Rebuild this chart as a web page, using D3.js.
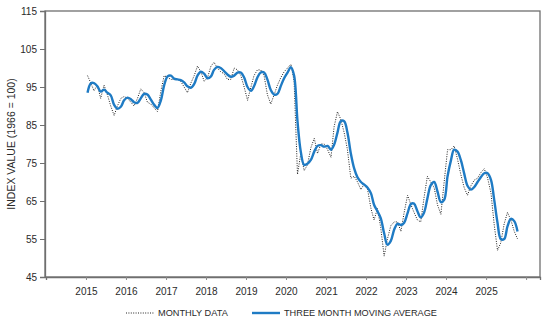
<!DOCTYPE html>
<html>
<head>
<meta charset="utf-8">
<script src="https://cdn.jsdelivr.net/npm/d3@7"></script>
<style>
  body { margin: 0; background: #fff; }
  text { font-family: "Liberation Sans", Arial, sans-serif; fill: #2a2a2a; }
</style>
</head>
<body>
<script>
// monthly index values, Jan 2015 .. Oct 2025
const monthly = [
  98, 96, 94, 95.5, 92, 95.5, 93, 90, 87.5, 90, 92, 92.5,
  92, 91, 90, 92, 94.5, 93.5, 91, 90.5, 89.5, 88.5, 94, 98,
  97.5, 97, 97, 97, 96.5, 95, 93.5, 96, 98, 100.5, 99, 96.5,
  97.5, 100.5, 101.5, 100, 99, 98.5, 97, 97, 100, 99.5, 98, 95,
  91.5, 95, 98, 99.5, 99.5, 98, 93, 90.5, 93, 95.5, 97.5, 99,
  100, 101, 96.5, 72, 77.5, 73, 74.5, 79, 81.5, 77.5, 80, 80,
  78.5, 76.5, 84.5, 88.5, 86.5, 83, 78.5, 71, 71.5, 70, 68, 69.5,
  68, 63, 60, 63, 58, 50.5, 55, 58.5, 59.5, 59.5, 57, 62,
  66.5, 64, 62, 60, 59.5, 66, 71.5, 70, 68.5, 64, 61.5, 70,
  78.5, 78.5, 79.5, 76, 72, 68.5, 66.5, 69, 70.5, 71, 72.5, 73.5,
  71, 67, 59, 52, 54, 59, 62, 60, 57, 55
];

// three month moving average as drawn
const movingAvg = [
  93.5, 96, 96, 95.2, 93.8, 94.3, 93.5, 92.8, 90.3, 89.3, 89.8, 91.5,
  92.2, 91.8, 91, 90.8, 92, 93.2, 93, 91.7, 90.3, 89.5, 91.5, 95.5,
  97.8, 98, 97.2, 97, 96.8, 96.2, 95.2, 94.8, 95.8, 98, 99, 98.5,
  97.3, 97.8, 99.5, 100.3, 100, 99.2, 98.3, 97.7, 98, 98.8, 98.8, 97.5,
  95, 94, 95.2, 97.5, 98.8, 98.8, 97, 94.2, 93, 93.2, 95.3, 97.3,
  98.8, 100.2, 98, 86, 78, 74.5, 74.8, 75.8, 78, 79.5, 79.7, 79.3,
  79.5, 78.5, 79.8, 83, 86, 86, 83, 77.5, 73.5, 71.2, 70, 69.3,
  68.5, 67, 64, 62.3, 60.5, 56.5, 53.5, 54.5, 57.5, 59, 58.7, 59.3,
  61.8, 64.2, 64.3, 62.3, 60.7, 62, 65.7, 69.2, 70, 67.5, 64.7, 65.3,
  71.5, 75.7, 78.5, 78, 75.8, 72.2, 69, 68, 68.7, 70, 71.3, 72.3,
  72.3, 70.5, 65.5, 59.3, 55, 55, 58.3, 60.3, 59.7, 57
];

const startYear = 2015;
const yearTicks = [2015, 2016, 2017, 2018, 2019, 2020, 2021, 2022, 2023, 2024, 2025, 2026];
const yearLabels = ["2015", "2016", "2017", "2018", "2019", "2020", "2021", "2022", "2023", "2024", "2025", ""];
const yTicks = [45, 55, 65, 75, 85, 95, 105, 115];
const seriesNames = ["MONTHLY DATA", "THREE MONTH MOVING AVERAGE"];

const W = 547, H = 324;
const plotL = 45, plotR = 540, plotT = 11, plotB = 277;
const blue = "#1f7bc4";

const svg = d3.select("body").append("svg")
  .attr("width", W)
  .attr("height", H);

// scales
const x = d3.scaleTime()
  .domain([new Date(2014, 0, 1), new Date(2026, 4, 8)])
  .range([plotL + 1, plotR]);

const y = d3.scaleLinear()
  .domain([45, 115])
  .range([plotB, plotT]);

const dateOf = i => new Date(startYear, i, 15);

// plot frame
svg.append("rect")
  .attr("x", plotL)
  .attr("y", plotT)
  .attr("width", plotR - plotL)
  .attr("height", plotB - plotT)
  .attr("fill", "none")
  .attr("stroke", "#6f6f6f")
  .attr("stroke-width", 1.3);

// y axis
const yAxis = svg.append("g")
  .attr("transform", `translate(${plotL},0)`)
  .call(d3.axisLeft(y).tickValues(yTicks).tickSize(5).tickPadding(3));
yAxis.select(".domain").attr("stroke", "#6f6f6f").attr("stroke-width", 1.3);
yAxis.selectAll(".tick line").attr("stroke", "#6f6f6f");
yAxis.selectAll("text")
  .style("font-size", "10px")
  .attr("fill", "#2a2a2a");

// x axis
const xAxis = svg.append("g")
  .attr("transform", `translate(0,${plotB})`)
  .call(d3.axisBottom(x)
    .tickValues(yearTicks.map(yr => new Date(yr, 0, 1)))
    .tickFormat((d, i) => yearLabels[i])
    .tickSize(3)
    .tickPadding(8));
xAxis.select(".domain").attr("stroke", "#6f6f6f").attr("stroke-width", 1.3);
xAxis.selectAll(".tick line").attr("stroke", "#8a8a8a");
xAxis.selectAll("text")
  .style("font-size", "10px")
  .attr("fill", "#2a2a2a");

// y title
svg.append("text")
  .attr("transform", `translate(15,${(plotT + plotB) / 2}) rotate(-90)`)
  .attr("text-anchor", "middle")
  .style("font-size", "10.5px")
  .text("INDEX VALUE (1966 = 100)");

// lines
const monthlyLine = d3.line()
  .x((d, i) => x(dateOf(i)))
  .y(d => y(d));

const avgLine = d3.line()
  .curve(d3.curveCatmullRom.alpha(0.5))
  .x((d, i) => x(dateOf(i)))
  .y(d => y(d));

svg.append("path")
  .datum(monthly)
  .attr("fill", "none")
  .attr("stroke", "#222")
  .attr("stroke-width", 1)
  .attr("stroke-dasharray", "1,1.4")
  .attr("d", monthlyLine);

svg.append("path")
  .datum(movingAvg)
  .attr("fill", "none")
  .attr("stroke", blue)
  .attr("stroke-width", 2.4)
  .attr("stroke-linejoin", "round")
  .attr("d", avgLine);

// legend
const legend = svg.append("g").attr("transform", "translate(0,313)");

legend.append("line")
  .attr("x1", 126).attr("x2", 154)
  .attr("stroke", "#222")
  .attr("stroke-width", 1)
  .attr("stroke-dasharray", "1,1.4");
legend.append("text")
  .attr("x", 158).attr("dy", "0.35em")
  .style("font-size", "9.2px")
  .text(seriesNames[0]);

legend.append("line")
  .attr("x1", 252).attr("x2", 280)
  .attr("stroke", blue)
  .attr("stroke-width", 2.4);
legend.append("text")
  .attr("x", 284).attr("dy", "0.35em")
  .style("font-size", "9.2px")
  .text(seriesNames[1]);
</script>
</body>
</html>
